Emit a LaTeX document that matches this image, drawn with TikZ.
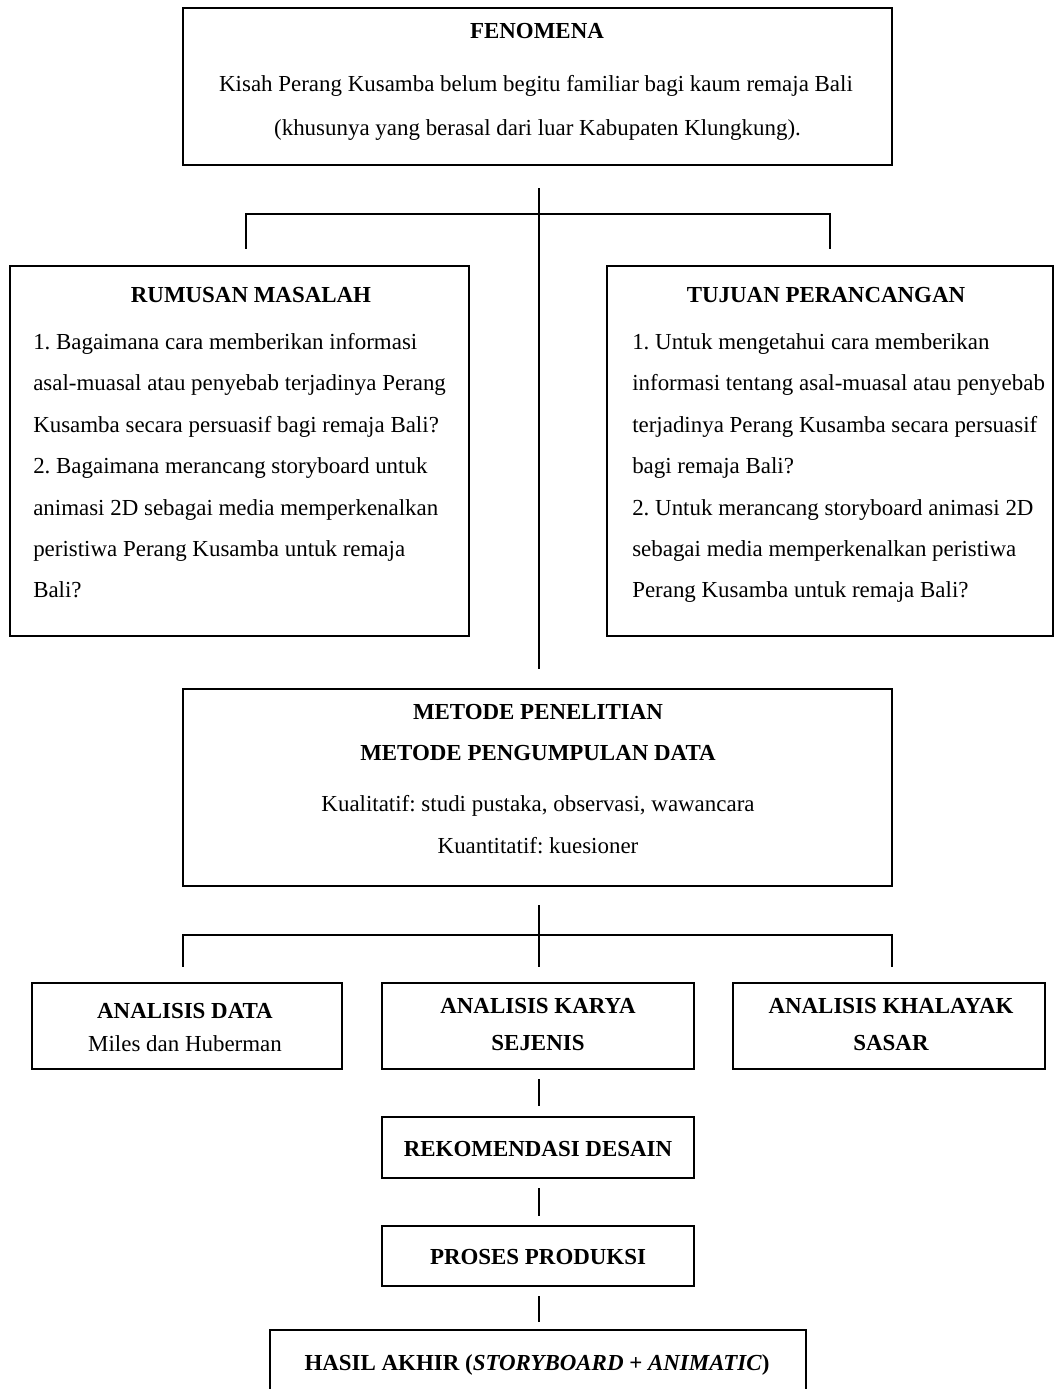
\documentclass[tikz,border=0pt]{standalone}
\usepackage{fontspec}
\setmainfont{Liberation Serif}
\usetikzlibrary{calc}
\frenchspacing
\begin{document}
\frenchspacing
\begin{tikzpicture}[x=0.75pt,y=-0.75pt,
  box/.style={draw, line width=2.2pt, inner sep=0pt},
  conn/.style={draw, line width=1.4pt},
  txt/.style={inner sep=0pt, anchor=base, font=\fontsize{17.2}{20}\selectfont},
  ttl/.style={txt, font=\fontsize{17.2}{20}\selectfont\bfseries},
  bl/.style={txt, anchor=base west}]
\useasboundingbox (0,0) rectangle (1055,1389);
\fill[white] (0,0) rectangle (1055,1389);
% boxes
\node[box, minimum width=531.75pt, minimum height=117.75pt] (fen) at (537.5,86.5) {};
\node[box, minimum width=344.25pt, minimum height=277.5pt] (rum) at (239.5,451) {};
\node[box, minimum width=334.5pt, minimum height=277.5pt] (tuj) at (830,451) {};
\node[box, minimum width=531.75pt, minimum height=147.75pt] (met) at (537.5,787.5) {};
\node[box, minimum width=232.5pt, minimum height=64.5pt] (ad) at (187,1026) {};
\node[box, minimum width=234pt, minimum height=64.5pt] (ak) at (538,1026) {};
\node[box, minimum width=234pt, minimum height=64.5pt] (akh) at (889,1026) {};
\node[box, minimum width=234pt, minimum height=45.75pt] (rek) at (538,1147.5) {};
\node[box, minimum width=234pt, minimum height=45pt] (pro) at (538,1256) {};
\node[box, minimum width=402pt, minimum height=49.5pt] (has) at (538,1363) {};
% texts
\node[ttl] (fenT) at (537,38) {FENOMENA};
\node[txt] (fen1) at (536,91) {Kisah Perang Kusamba belum begitu familiar bagi kaum remaja Bali};
\node[txt] (fen2) at (537.5,135) {(khusunya yang berasal dari luar Kabupaten Klungkung).};
\node[ttl] (rumT) at (251,302) {RUMUSAN MASALAH};
\node[bl] (rum1) at (33,349) {1. Bagaimana cara memberikan informasi};
\node[bl] (rum2) at (33,390) {asal-muasal atau penyebab terjadinya Perang};
\node[bl] (rum3) at (33,432) {Kusamba secara persuasif bagi remaja Bali?};
\node[bl] (rum4) at (33,473) {2. Bagaimana merancang storyboard untuk};
\node[bl] (rum5) at (33,515) {animasi 2D sebagai media memperkenalkan};
\node[bl] (rum6) at (33,556) {peristiwa Perang Kusamba untuk remaja};
\node[bl] (rum7) at (33,597) {Bali?};
\node[ttl] (tujT) at (826,302) {TUJUAN PERANCANGAN};
\node[bl] (tuj1) at (632,349) {1. Untuk mengetahui cara memberikan};
\node[bl] (tuj2) at (632,390) {informasi tentang asal-muasal atau penyebab};
\node[bl] (tuj3) at (632,432) {terjadinya Perang Kusamba secara persuasif};
\node[bl] (tuj4) at (632,473) {bagi remaja Bali?};
\node[bl] (tuj5) at (632,515) {2. Untuk merancang storyboard animasi 2D};
\node[bl] (tuj6) at (632,556) {sebagai media memperkenalkan peristiwa};
\node[bl] (tuj7) at (632,597) {Perang Kusamba untuk remaja Bali?};
\node[ttl] (metT1) at (538,719) {METODE PENELITIAN};
\node[ttl] (metT2) at (538,760) {METODE PENGUMPULAN DATA};
\node[txt] (met1) at (538,811) {Kualitatif: studi pustaka, observasi, wawancara};
\node[txt] (met2) at (538,853) {Kuantitatif: kuesioner};
\node[ttl] (adT) at (185,1018) {ANALISIS DATA};
\node[txt] (ad1) at (185,1051) {Miles dan Huberman};
\node[ttl] (akT1) at (538,1013) {ANALISIS KARYA};
\node[ttl] (akT2) at (538,1050) {SEJENIS};
\node[ttl] (akhT1) at (891,1013) {ANALISIS KHALAYAK};
\node[ttl] (akhT2) at (891,1050) {SASAR};
\node[ttl] (rekT) at (538,1156) {REKOMENDASI DESAIN};
\node[ttl] (proT) at (538,1264) {PROSES PRODUKSI};
\node[ttl] (hasT) at (537,1370) {HASIL AKHIR (\textit{STORYBOARD} + \textit{ANIMATIC})};
% connectors
\coordinate (j1) at (539,214);
\coordinate (j2) at (539,935);
\draw[conn] ($(fen.south)+(1.5,22)$) -- ($(met.north)+(1.5,-19)$);
\draw[conn] ($(rum.north)+(6.5,-16)$) |- (j1) -| ($(tuj.north)+(0,-16)$);
\draw[conn] ($(met.south)+(1.5,18)$) -- ($(ak.north)+(1,-15)$);
\draw[conn] ($(ad.north)+(-4,-15)$) |- (j2) -| ($(akh.north)+(3,-15)$);
\draw[conn] ($(ak.south)+(1,9)$) -- ($(rek.north)+(1,-10)$);
\draw[conn] ($(rek.south)+(1,9)$) -- ($(pro.north)+(1,-9)$);
\draw[conn] ($(pro.south)+(1,9)$) -- ($(has.north)+(1,-7)$);
\end{tikzpicture}
\end{document}
